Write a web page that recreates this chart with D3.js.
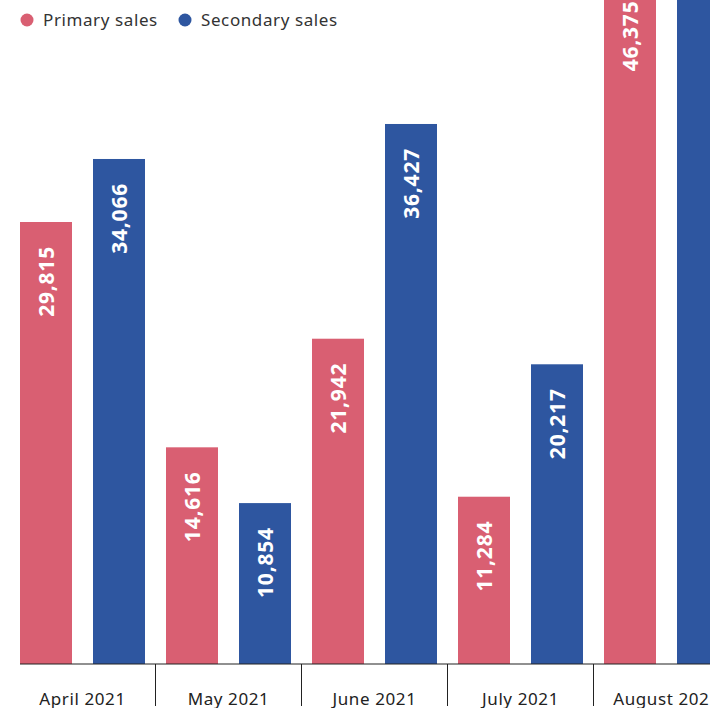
<!DOCTYPE html>
<html>
<head>
  <meta charset="utf-8">
  <title>Primary vs secondary sales</title>
  <style>
    body { margin: 0; background: #fff; }
    svg { display: block; }
  </style>
</head>
<body>
  <script src="https://cdn.jsdelivr.net/npm/d3@7/dist/d3.min.js"></script>
  <script>
    // data
    var months = ["April 2021", "May 2021", "June 2021", "July 2021", "August 2021"];
    var seriesNames = ["Primary sales", "Secondary sales"];
    var primary = [29815, 14616, 21942, 11284, 46375];
    var secondary = [34066, 10854, 36427, 20217, 55000];  // last one is cut off, guessed
    var colors = ["#d95f72", "#2e56a0"];

    var W = 710, H = 708;
    var baseY = 664;

    var svg = d3.select("body").append("svg")
      .attr("width", W)
      .attr("height", H)
      .style("font-family", "'Noto Sans', sans-serif");

    // x scales: one per month group, one inside the group
    var x0 = d3.scaleBand().domain(months).range([20, 729]).paddingInner(21 / 146).paddingOuter(0);
    var x1 = d3.scaleBand().domain(seriesNames).range([0, x0.bandwidth()]).paddingInner(21 / 73).paddingOuter(0);
    var y = d3.scaleLinear().domain([0, 44790]).range([baseY, 0]);

    var rows = months.map(function (m, i) {
      return { month: m, values: [
        { key: seriesNames[0], value: primary[i], color: colors[0] },
        { key: seriesNames[1], value: secondary[i], color: colors[1] }
      ] };
    });

    var groups = svg.append("g").attr("id", "bars").selectAll("g")
      .data(rows)
      .enter().append("g")
      .attr("transform", function (d) { return "translate(" + x0(d.month) + ",0)"; });

    groups.selectAll("rect")
      .data(function (d) { return d.values; })
      .enter().append("rect")
      .attr("x", function (d) { return x1(d.key); })
      .attr("width", x1.bandwidth())
      .attr("y", function (d) { return y(d.value); })
      .attr("height", function (d) { return baseY - y(d.value); })
      .attr("fill", function (d) { return d.color; });

    // value labels, rotated, near the top of each bar
    groups.selectAll("text")
      .data(function (d) { return d.values; })
      .enter().append("text")
      .attr("transform", function (d) {
        var cx = x1(d.key) + x1.bandwidth() / 2;
        return "translate(" + cx + "," + (y(d.value) + 24) + ") rotate(-90)";
      })
      .attr("text-anchor", "end")
      .attr("dy", "0.36em")
      .attr("fill", "#fff")
      .attr("font-size", 21)
      .attr("font-weight", 700)
      .attr("letter-spacing", 0.8)
      .text(function (d) { return d3.format(",")(d.value); });

    // x axis
    var axis = svg.append("g").attr("id", "x_axis");
    axis.append("line")
      .attr("x1", 20).attr("x2", W)
      .attr("y1", baseY).attr("y2", baseY)
      .attr("stroke", "#222").attr("stroke-width", 1.2);

    axis.selectAll(".sep")
      .data(months.slice(0, months.length - 1))
      .enter().append("line")
      .attr("class", "sep")
      .attr("x1", function (d) { return x0(d) + x0.bandwidth() + 10.5; })
      .attr("x2", function (d) { return x0(d) + x0.bandwidth() + 10.5; })
      .attr("y1", baseY).attr("y2", 706)
      .attr("stroke", "#222").attr("stroke-width", 1);

    axis.selectAll(".lbl")
      .data(months)
      .enter().append("text")
      .attr("class", "lbl")
      .attr("x", function (d) { return x0(d) + x0.bandwidth() / 2; })
      .attr("y", 705)
      .attr("text-anchor", "middle")
      .attr("font-size", 17)
      .attr("letter-spacing", 0.6)
      .attr("fill", "#222")
      .text(function (d) { return d; });

    // legend
    var legendX = [27, 185];
    var legend = svg.append("g").attr("id", "legend").selectAll("g")
      .data(seriesNames)
      .enter().append("g")
      .attr("transform", function (d, i) { return "translate(" + legendX[i] + ",20)"; });
    legend.append("circle").attr("r", 6.5).attr("fill", function (d, i) { return colors[i]; });
    legend.append("text")
      .attr("x", 16).attr("dy", "0.35em")
      .attr("font-size", 17)
      .attr("letter-spacing", 0.6)
      .attr("fill", "#333")
      .text(function (d) { return d; });
  </script>
</body>
</html>
